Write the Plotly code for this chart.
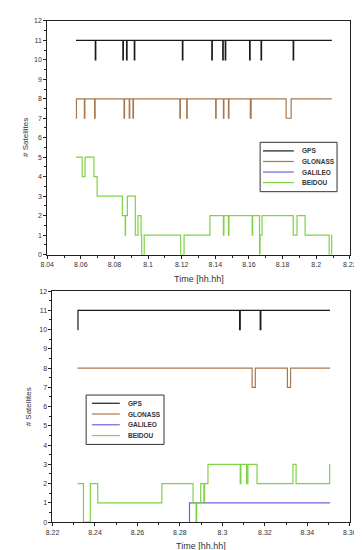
import plotly.graph_objects as go

# ---------------- data ----------------
# Top panel
gps1_t = [8.0571, 8.0686, 8.0689, 8.0850, 8.0853, 8.0872, 8.0875, 8.0918, 8.0921,
          8.1204, 8.1207, 8.1379, 8.1382, 8.1444, 8.1447, 8.1459, 8.1462, 8.1604,
          8.1607, 8.1672, 8.1675, 8.1863, 8.1866, 8.2093]
gps1_v = [11, 10, 11, 10, 11, 10, 11, 10, 11, 10, 11, 10, 11, 10, 11, 10, 11, 10,
          11, 10, 11, 10, 11, 11]

glo1_t = [8.0571, 8.0574, 8.0621, 8.0624, 8.0682, 8.0685, 8.0857, 8.0860, 8.0888,
          8.0891, 8.0910, 8.0913, 8.1189, 8.1192, 8.1230, 8.1233, 8.1402, 8.1405,
          8.1448, 8.1451, 8.1478, 8.1481, 8.1608, 8.1613, 8.1821, 8.1851, 8.2093]
glo1_v = [7, 8, 7, 8, 7, 8, 7, 8, 7, 8, 7, 8, 7, 8, 7, 8, 7, 8, 7, 8, 7, 8, 7, 8,
          7, 8, 8]

bei1_t = [8.0571, 8.0608, 8.0625, 8.0678, 8.0697, 8.0847, 8.0864, 8.0866, 8.0877,
          8.0924, 8.0940, 8.0958, 8.0962, 8.0977, 8.1194, 8.1214, 8.1368, 8.1448,
          8.1451, 8.1478, 8.1481, 8.1619, 8.1622, 8.1663, 8.1666, 8.1678, 8.1863,
          8.1886, 8.1934, 8.2077, 8.2092, 8.2095]
bei1_v = [5, 4, 5, 4, 3, 2, 1, 2, 3, 1, 2, 1, 0, 1, 0, 1, 2, 1, 2, 1, 2, 1, 2, 0,
          1, 2, 1, 2, 1, 0, 1, 1]

# Bottom panel
gps2_t = [8.2318, 8.2320, 8.3081, 8.3084, 8.3178, 8.3181, 8.3507]
gps2_v = [10, 11, 10, 11, 10, 11, 11]

glo2_t = [8.2318, 8.3140, 8.3155, 8.3306, 8.3321, 8.3507]
glo2_v = [8, 7, 8, 7, 8, 8]

gal2_t = [8.2843, 8.2845, 8.3507]
gal2_v = [0, 1, 1]

bei2_t = [8.2318, 8.2346, 8.2378, 8.2413, 8.2715, 8.2862, 8.2876, 8.2879, 8.2898,
          8.2913, 8.2916, 8.2932, 8.3084, 8.3087, 8.3114, 8.3120, 8.3163, 8.3332,
          8.3347, 8.3505, 8.3507]
bei2_v = [2, 0, 2, 1, 2, 1, 0, 1, 2, 1, 2, 3, 2, 3, 2, 3, 2, 3, 2, 3, 3]

series_names = ["GPS", "GLONASS", "GALILEO", "BEIDOU"]

x1_ticks = [8.04, 8.06, 8.08, 8.10, 8.12, 8.14, 8.16, 8.18, 8.20, 8.22]
x1_labels = ["8.04", "8.06", "8.08", "8.1", "8.12", "8.14", "8.16", "8.18", "8.2", "8.22"]
x2_ticks = [8.22, 8.24, 8.26, 8.28, 8.30, 8.32, 8.34, 8.36]
x2_labels = ["8.22", "8.24", "8.26", "8.28", "8.3", "8.32", "8.34", "8.36"]
y_ticks = list(range(0, 13))
y_labels = [str(v) for v in y_ticks]

x_title = "Time [hh.hh]"
y_title = "# Satellites"

# ---------------- styling ----------------
COL = {"GPS": "#1a1a1a", "GLONASS": "#a8784e", "GALILEO": "#6f63e0", "BEIDOU": "#7fd246"}
FONT = "Liberation Sans, Arial, sans-serif"
W, H = 362, 550

fig = go.Figure()

def add(t, v, name, xa, ya):
    fig.add_trace(go.Scatter(
        x=t, y=v, mode="lines", name=name, line=dict(color=COL[name], width=1.2, shape="hv"),
        xaxis=xa, yaxis=ya, showlegend=False))

add(gps1_t, gps1_v, "GPS", "x", "y")
add(glo1_t, glo1_v, "GLONASS", "x", "y")
add(bei1_t, bei1_v, "BEIDOU", "x", "y")

add(gps2_t, gps2_v, "GPS", "x2", "y2")
add(glo2_t, glo2_v, "GLONASS", "x2", "y2")
add(gal2_t, gal2_v, "GALILEO", "x2", "y2")
add(bei2_t, bei2_v, "BEIDOU", "x2", "y2")

def px_x(p):
    return p / W

def px_y(p):
    return 1 - p / H

axis_common = dict(showline=True, linecolor="#222", linewidth=1, mirror=True,
                   ticks="outside", ticklen=3, tickcolor="#222", tickwidth=1,
                   showgrid=False, zeroline=False,
                   tickfont=dict(family=FONT, size=7, color="#333"))

def title_ann(text, x, y, angle=0, size=9):
    return dict(text=text, x=px_x(x), y=px_y(y), xref="paper", yref="paper",
                xanchor="center", yanchor="middle", textangle=angle,
                showarrow=False, font=dict(family=FONT, size=size, color="#333"))

annotations = [
    title_ann(x_title, 191, 270),
    title_ann(x_title, 194, 541),
    title_ann(y_title, 11, 127, -90, 8),
    title_ann(y_title, 14, 400, -90, 8),
]
shapes = []

# hand-drawn legend boxes (box px, line sample start/end px, text x px, first row y, row step)
legend_boxes = [
    dict(box=(255, 132, 335, 182), l0=258, l1=290, tx=296, y0=140.7, dy=10.7),
    dict(box=(74, 388, 155, 438), l0=80, l1=109, tx=115, y0=396.3, dy=10.9),
]
for lb in legend_boxes:
    x0, y0, x1, y1 = lb["box"]
    shapes.append(dict(type="rect", xref="paper", yref="paper",
                       x0=px_x(x0), x1=px_x(x1), y0=px_y(y1), y1=px_y(y0),
                       line=dict(color="#333", width=1), fillcolor="white", layer="above"))
    for i, name in enumerate(series_names):
        yy = lb["y0"] + i * lb["dy"]
        shapes.append(dict(type="line", xref="paper", yref="paper",
                           x0=px_x(lb["l0"]), x1=px_x(lb["l1"]), y0=px_y(yy), y1=px_y(yy),
                           line=dict(color=COL[name], width=1.2), layer="above"))
        annotations.append(dict(text="<b>" + name + "</b>", x=px_x(lb["tx"]), y=px_y(yy),
                                xref="paper", yref="paper", xanchor="left", yanchor="middle",
                                showarrow=False,
                                font=dict(family=FONT, size=6.5, color="#333")))

fig.update_layout(
    width=W, height=H, margin=dict(l=0, r=0, t=0, b=0),
    paper_bgcolor="white", plot_bgcolor="white",
    xaxis=dict(domain=[px_x(33.5), px_x(348.3)], range=[8.04, 8.22], anchor="y",
               tickvals=x1_ticks, ticktext=x1_labels,
               minor=dict(ticks="outside", dtick=0.01, ticklen=2, tickcolor="#222"),
               **axis_common),
    yaxis=dict(domain=[px_y(245.7), px_y(9)], range=[0, 12], anchor="x",
               tickvals=y_ticks, ticktext=y_labels,
               minor=dict(ticks="outside", dtick=0.5, ticklen=2, tickcolor="#222"),
               **axis_common),
    xaxis2=dict(domain=[px_x(39), px_x(348.3)], range=[8.22, 8.36], anchor="y2",
                tickvals=x2_ticks, ticktext=x2_labels,
                minor=dict(ticks="outside", dtick=0.01, ticklen=2, tickcolor="#222"),
                **axis_common),
    yaxis2=dict(domain=[px_y(516.7), px_y(282.7)], range=[0, 12], anchor="x2",
                tickvals=y_ticks, ticktext=y_labels,
                minor=dict(ticks="outside", dtick=0.5, ticklen=2, tickcolor="#222"),
                **axis_common),
    shapes=shapes,
    annotations=annotations,
)

fig.write_html("out.html")
